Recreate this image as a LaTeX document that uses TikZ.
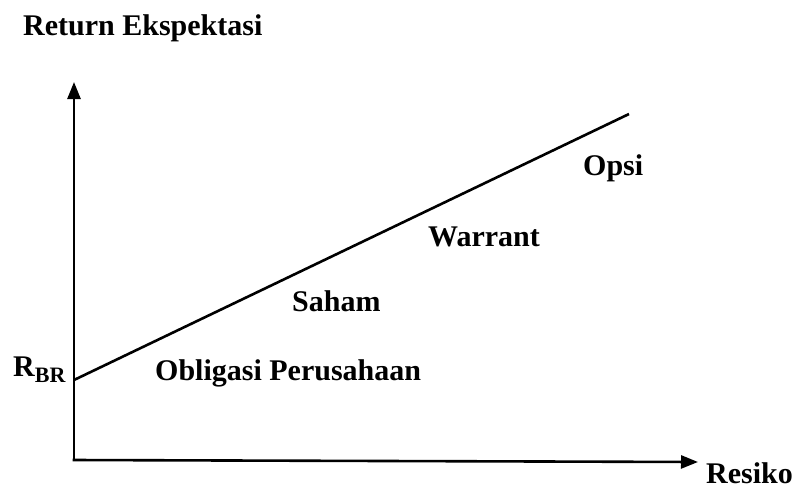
\documentclass[tikz,border=0pt]{standalone}
\usepackage{fontspec}
\setmainfont{Liberation Serif}
\usetikzlibrary{arrows.meta}
\begin{document}
\begin{tikzpicture}[x=1pt,y=-1pt,
  lbl/.style={font=\fontsize{30}{33}\selectfont\bfseries, inner sep=0pt, anchor=west},
  axis/.style={line width=2.6pt, -{Triangle[length=17pt,width=13pt]}},
  trend/.style={line width=2.6pt}]
\useasboundingbox (0,0) rectangle (803,490);
\coordinate (o) at (74,460);
\coordinate (ytop) at (74,82);
\coordinate (xend) at (698,462);
\coordinate (rbr) at (74,380);
\coordinate (lend) at (629,114);
\draw[axis] (o) -- (ytop);
\draw[axis] ([xshift=-1.3pt]o) -- (xend);
\draw[trend] (rbr) -- (lend);
\node[lbl] (ret) at (23,28) {Return Ekspektasi};
\node[lbl] (rb) at (13,370) {R\textsubscript{\fontsize{22}{24}\selectfont BR}};
\node[lbl] (obl) at (155,373) {Obligasi Perusahaan};
\node[lbl] (sah) at (292,301) {Saham};
\node[lbl] (war) at (428,237) {Warrant};
\node[lbl] (ops) at (583,168) {Opsi};
\node[lbl] (res) at (706,473) {Resiko};
\end{tikzpicture}
\end{document}
